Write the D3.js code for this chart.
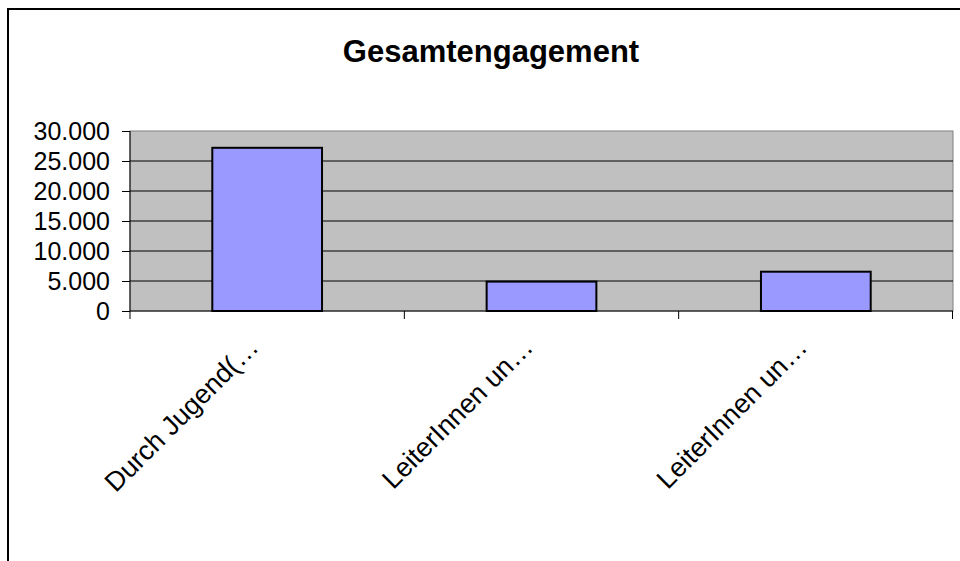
<!DOCTYPE html>
<html>
<head>
<meta charset="utf-8">
<script src="https://cdn.jsdelivr.net/npm/d3@7"></script>
<style>
  body { margin: 0; background: #fff; }
  svg { display: block; font-family: Arial, "Liberation Sans", sans-serif; }
</style>
</head>
<body>
<div id="drawing_region"></div>
<script>
const categories = ["Durch Jugend(…", "LeiterInnen un… (1)", "LeiterInnen un… (2)"];
const labels = ["Durch Jugend(…", "LeiterInnen un…", "LeiterInnen un…"];
const values = [27200, 4900, 6550];
const yTicks = [0, 5000, 10000, 15000, 20000, 25000, 30000];
const title = "Gesamtengagement";

const width = 960, height = 561;
const margin = { top: 131, right: 7, bottom: 250, left: 130 };
const innerW = width - margin.left - margin.right;
const innerH = height - margin.top - margin.bottom;

const svg = d3.select("#drawing_region").append("svg")
    .attr("width", width)
    .attr("height", height);

// outer chart frame (top and left edges visible)
svg.append("path")
    .attr("d", "M8,570 L8,9 L970,9")
    .attr("fill", "none")
    .attr("stroke", "#000")
    .attr("stroke-width", 2);

svg.append("text")
    .attr("x", 491)
    .attr("y", 62)
    .attr("text-anchor", "middle")
    .attr("font-size", 31)
    .attr("font-weight", "bold")
    .text(title);

const chart = svg.append("g")
    .attr("transform", `translate(${margin.left}, ${margin.top})`);

const xscale = d3.scaleBand().domain(categories).range([0, innerW])
    .paddingInner(0.6).paddingOuter(0.3);
const xband = d3.scaleBand().domain(categories).range([0, innerW]);
const yscale = d3.scaleLinear().domain([0, 30000]).range([innerH, 0]);

// plot background
chart.append("rect")
    .attr("width", innerW)
    .attr("height", innerH)
    .attr("fill", "#c0c0c0")
    .attr("stroke", "#808080")
    .attr("stroke-width", 1);

// gridlines
chart.selectAll(".grid").data(yTicks.filter(d => d > 0 && d < 30000)).enter()
    .append("line")
    .attr("x1", 0).attr("x2", innerW)
    .attr("y1", d => yscale(d)).attr("y2", d => yscale(d))
    .attr("stroke", "#000").attr("stroke-width", 1);

chart.selectAll(".bar").data(values).enter()
    .append("rect")
    .attr("x", (d, i) => xscale(categories[i]))
    .attr("y", d => yscale(d))
    .attr("width", xscale.bandwidth())
    .attr("height", d => innerH - yscale(d))
    .attr("fill", "#9999ff")
    .attr("stroke", "#000")
    .attr("stroke-width", 2);

const fmt = d3.formatLocale({ decimal: ",", thousands: ".", grouping: [3], currency: ["", "€"] }).format(",d");

const yaxis = d3.axisLeft(yscale).tickValues(yTicks).tickFormat(fmt)
    .tickSize(8).tickSizeOuter(0).tickPadding(12);
const yg = chart.append("g").call(yaxis);
yg.select(".domain").attr("stroke", "#000").attr("d", `M0,0V${innerH + 8}`);
yg.selectAll("text").attr("font-size", 25).attr("fill", "#000")
    .attr("font-family", "Arial, 'Liberation Sans', sans-serif");

// x axis: ticks at band boundaries
const xg = chart.append("g").attr("transform", `translate(0, ${innerH})`);
xg.append("line").attr("x1", 0).attr("x2", innerW)
    .attr("stroke", "#000").attr("stroke-width", 1);
xg.selectAll(".xt").data(categories.slice(1).concat(["end"])).enter()
    .append("line")
    .attr("x1", d => d === "end" ? innerW - 0.5 : xband(d))
    .attr("x2", d => d === "end" ? innerW - 0.5 : xband(d))
    .attr("y1", 0).attr("y2", 8)
    .attr("stroke", "#000");

xg.selectAll(".xl").data(categories).enter()
    .append("text")
    .attr("transform", d => `translate(${xband(d) + xband.bandwidth() / 2 - 7}, 38) rotate(-45)`)
    .attr("text-anchor", "end")
    .attr("font-size", 27)
    .text((d, i) => labels[i]);
</script>
</body>
</html>
